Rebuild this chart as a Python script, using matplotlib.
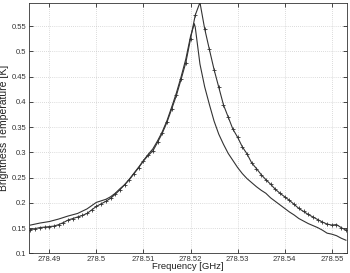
import matplotlib
matplotlib.use("Agg")
import matplotlib.pyplot as plt
from matplotlib.ticker import FuncFormatter, MultipleLocator

# Measured curve (with markers)
freq_meas = [278.486, 278.487, 278.488, 278.489, 278.490, 278.491, 278.492, 278.493,
             278.494, 278.495, 278.496, 278.497, 278.498, 278.499, 278.500, 278.501,
             278.502, 278.503, 278.504, 278.505, 278.506, 278.507, 278.508, 278.509,
             278.510, 278.511, 278.512, 278.513, 278.514, 278.515, 278.516, 278.517,
             278.518, 278.519, 278.520, 278.521, 278.522, 278.523, 278.524, 278.525,
             278.526, 278.527, 278.528, 278.529, 278.530, 278.531, 278.532, 278.533,
             278.534, 278.535, 278.536, 278.537, 278.538, 278.539, 278.540, 278.541,
             278.542, 278.543, 278.544, 278.545, 278.546, 278.547, 278.548, 278.549,
             278.550, 278.551, 278.552, 278.553]
temp_meas = [0.147, 0.149, 0.151, 0.152, 0.153, 0.154, 0.157, 0.161,
             0.166, 0.169, 0.172, 0.175, 0.179, 0.186, 0.193, 0.198,
             0.203, 0.209, 0.217, 0.226, 0.236, 0.246, 0.258, 0.270,
             0.283, 0.294, 0.303, 0.320, 0.338, 0.360, 0.386, 0.413,
             0.445, 0.478, 0.525, 0.572, 0.597, 0.545, 0.504, 0.464,
             0.429, 0.394, 0.370, 0.346, 0.330, 0.311, 0.297, 0.279,
             0.268, 0.256, 0.246, 0.237, 0.227, 0.219, 0.212, 0.205,
             0.197, 0.189, 0.183, 0.177, 0.172, 0.167, 0.162, 0.158,
             0.156, 0.157, 0.151, 0.146]

# Model curve (plain line)
freq_model = [278.486, 278.488, 278.490, 278.492, 278.494, 278.496, 278.498, 278.500,
              278.502, 278.503, 278.504, 278.505, 278.506, 278.507, 278.508, 278.509,
              278.510, 278.511, 278.512, 278.513, 278.514, 278.515, 278.516, 278.517,
              278.518, 278.519, 278.520, 278.5208, 278.521, 278.522, 278.523, 278.524,
              278.525, 278.526, 278.527, 278.528, 278.529, 278.530, 278.531, 278.532,
              278.533, 278.534, 278.535, 278.536, 278.537, 278.538, 278.539, 278.540,
              278.541, 278.542, 278.543, 278.544, 278.545, 278.546, 278.547, 278.548,
              278.549, 278.550, 278.551, 278.552, 278.553]
temp_model = [0.156, 0.160, 0.163, 0.168, 0.174, 0.179, 0.188, 0.201,
              0.207, 0.212, 0.219, 0.228, 0.236, 0.247, 0.259, 0.271,
              0.284, 0.296, 0.307, 0.323, 0.341, 0.363, 0.390, 0.418,
              0.450, 0.485, 0.530, 0.555, 0.548, 0.475, 0.430, 0.395,
              0.362, 0.336, 0.316, 0.298, 0.284, 0.270, 0.258, 0.248,
              0.240, 0.232, 0.225, 0.219, 0.210, 0.203, 0.196, 0.189,
              0.182, 0.176, 0.169, 0.164, 0.159, 0.155, 0.151, 0.146,
              0.140, 0.138, 0.135, 0.130, 0.126]

plt.rcParams['font.family'] = ['Liberation Sans', 'DejaVu Sans']

fig = plt.figure(figsize=(3.5, 2.73), dpi=100)
ax = fig.add_axes([0.083, 0.072, 0.908, 0.917])

ax.plot(freq_model, temp_model, color='#333333', lw=0.8)
ax.plot(freq_meas, temp_meas, color='#333333', lw=0.8, marker='+', ms=3.5, mew=0.6)

ax.set_xlim(278.4857, 278.5532)
ax.set_ylim(0.1, 0.596)
ax.xaxis.set_major_locator(MultipleLocator(0.01))
ax.yaxis.set_major_locator(MultipleLocator(0.05))
fmt = FuncFormatter(lambda v, p: f"{v:.2f}".rstrip('0').rstrip('.'))
ax.xaxis.set_major_formatter(fmt)
ax.yaxis.set_major_formatter(fmt)

ax.grid(True, linestyle=(0, (1, 2)), color='#bbbbbb', lw=0.5)
ax.tick_params(direction='in', top=True, right=True, labelsize=5.5, length=3,
               width=0.5, pad=2, labelcolor='#333333')
for s in ax.spines.values():
    s.set_linewidth(0.6)
    s.set_color('#333333')

ax.set_xlabel('Frequency [GHz]', fontsize=6.8, labelpad=-0.5, color='#222222')
ax.set_ylabel('Brightness Temperature [K]', fontsize=7.5, labelpad=2, color='#222222')

fig.savefig('out.png', dpi=100)
